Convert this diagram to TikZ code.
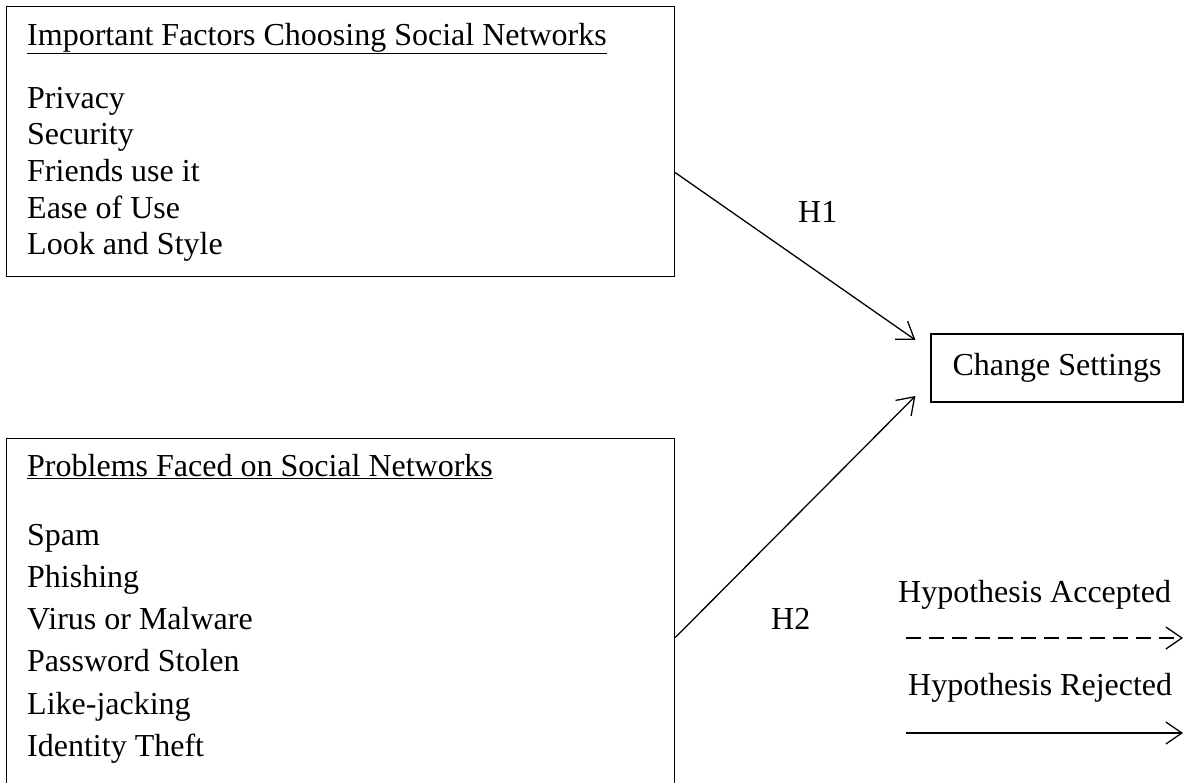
\documentclass[tikz,border=0pt]{standalone}
\usepackage{fontspec}
\setmainfont{Liberation Serif}
\usepackage{tikz}
\usetikzlibrary{arrows.meta, positioning}

\tikzset{
	box/.style={draw, line width=1.2pt, inner sep=0pt},
	txt/.style={anchor=base west, inner sep=0pt},
	hyp/.style={line width=1.3pt, -{Straight Barb[length=16pt, width=22pt, line width=1.3pt]}}
}

\begin{document}
\begin{tikzpicture}[x=1pt, y=-1pt, font=\fontsize{32}{38}\selectfont]
		\useasboundingbox (0,0) rectangle (1190,782);

		% the two boxes on the left
		\node[box, anchor=north west, minimum width=668pt, minimum height=270pt] (fac) at (6,6) {};
		\node[box, anchor=north west, minimum width=668pt, minimum height=362pt] (prb) at (6,438) {};
		
		\node[txt] (factitle) at (27,45) {\underline{Important Factors Choosing Social Networks}};
		\foreach \t [count=\i from 0] in {Privacy, Security, Friends use it, Ease of Use, Look and Style}
			\node[txt] (fac\i) at (27,108+36.7*\i) {\t};
		
		\node[txt] (prbtitle) at (27,476) {\underline{Problems Faced on Social Networks}};
		\foreach \t [count=\i from 0] in {Spam, Phishing, Virus or Malware, Password Stolen, Like-jacking, Identity Theft}
			\node[txt] (prb\i) at (27,545+42.3*\i) {\t};
		
		% target
		\node[box, minimum width=252pt, minimum height=68pt] (cs) at (1057,368) {Change Settings};
		
		\draw[hyp] ([yshift=-31pt]fac.east) -- ([xshift=-15pt, yshift=28pt]cs.west);
		\draw[hyp] ([yshift=-18pt]prb.east) -- ([xshift=-15pt, yshift=-28pt]cs.west);
		\node[txt] (h1) at (798,222) {H1};
		\node[txt] (h2) at (771,629) {H2};
		
		% legend
		\node[txt] (acc) at (898,602) {Hypothesis Accepted};
		\node[txt] (rej) at (908,695) {Hypothesis Rejected};
		\coordinate (acca) at (906,638);
		\coordinate (accb) at (1183,638);
		\coordinate (reja) at (906,733);
		\coordinate (rejb) at (1183,733);
		\draw[hyp, dash pattern=on 15pt off 8pt] (acca) -- (accb);
		\draw[hyp] (reja) -- (rejb);
	\end{tikzpicture}
\end{document}
